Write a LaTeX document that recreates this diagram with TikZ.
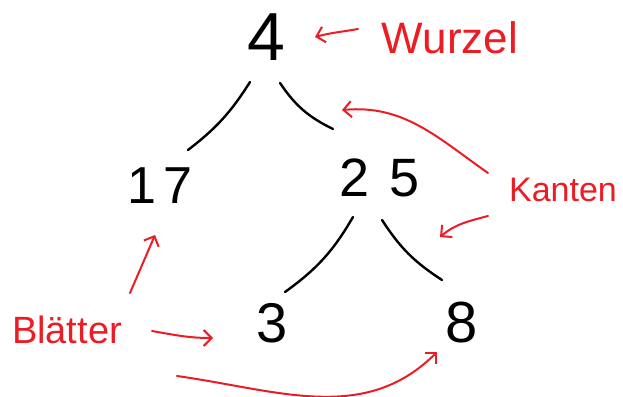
\documentclass[tikz,border=0pt]{standalone}
\usepackage{fontspec}
\setmainfont{Liberation Sans}
\usetikzlibrary{arrows.meta,calc}
\definecolor{handred}{RGB}{236,28,36}
\begin{document}
\begin{tikzpicture}[x=1pt,y=1pt,
  num/.style={inner sep=0pt, font=\fontsize{52}{52}\selectfont},
  lbl/.style={inner sep=0pt, text=handred},
  edge/.style={line width=2.4pt, line cap=round, black},
  hint/.style={line width=2pt, line cap=round, line join=round, draw=handred,
    -{Straight Barb[length=8pt,width=16pt,line width=2pt]}}]
\useasboundingbox (0,0) rectangle (623,396);
% tree nodes
\node[num, font=\fontsize{68}{68}\selectfont] (n4) at (266,359) {4};
\node[num] (n17) at (160,210) {1\kern8pt7};
\node[num, font=\fontsize{54}{54}\selectfont] (n25) at (380,218) {2\kern20pt5};
\node[num, font=\fontsize{56}{56}\selectfont] (n3) at (272,73) {3};
\node[num, font=\fontsize{58}{58}\selectfont] (n8) at (462,73) {8};
% labels
\node[lbl, font=\fontsize{44}{44}\selectfont] (wurzel) at (450,358) {Wurzel};
\node[lbl, font=\fontsize{34}{34}\selectfont] (kanten) at (563,206) {Kanten};
\node[lbl, font=\fontsize{38}{38}\selectfont] (blaetter) at (67,66) {Blätter};
% edges
\draw[edge] ([shift={(-16,-45)}]n4.center) to[bend left=10] ([shift={(28,36)}]n17.center);
\draw[edge] ([shift={(14,-46)}]n4.center) to[bend right=15] ([shift={(-47,49)}]n25.center);
\draw[edge] ([shift={(-27,-39)}]n25.center) to[bend left=12] ([shift={(13,31)}]n3.center);
\draw[edge] ([shift={(2,-42)}]n25.center) to[bend right=12] ([shift={(-20,43)}]n8.center);
% red arrows
\draw[hint] ([shift={(-92,9)}]wurzel.center) to[out=190,in=15] ([shift={(49,0)}]n4.center);
\draw[hint] ([shift={(-75,17)}]kanten.center) to[out=145,in=5] ([shift={(76,-73)}]n4.center);
\draw[hint] ([shift={(-75,-26)}]kanten.center) to[out=195,in=40] ([shift={(60,-59)}]n25.center);
\draw[hint] ([shift={(63,37)}]blaetter.center) -- ([shift={(-5,-49)}]n17.center);
\draw[hint] ([shift={(85,-1)}]blaetter.center) to[out=-10,in=180] ([shift={(-59,-15)}]n3.center);
\draw[hint] ([shift={(110,-46)}]blaetter.center) to[out=-8,in=225] ([shift={(-25,-29)}]n8.center);
\end{tikzpicture}
\end{document}
